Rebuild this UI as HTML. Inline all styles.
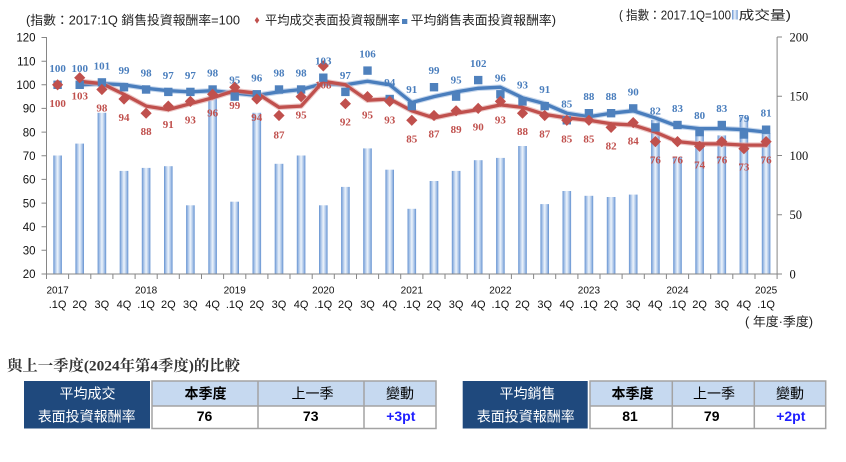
<!DOCTYPE html>
<html>
<head>
<meta charset="utf-8">
<style>
html,body{margin:0;padding:0;background:#fff;}
svg{display:block;}
</style>
</head>
<body>
<svg width="846" height="462" viewBox="0 0 846 462" xmlns="http://www.w3.org/2000/svg">
<defs>
<linearGradient id="bg" x1="0" y1="0" x2="1" y2="0">
<stop offset="0" stop-color="#6391d0"/>
<stop offset="0.22" stop-color="#a8c3e8"/>
<stop offset="0.5" stop-color="#eef4fb"/>
<stop offset="0.78" stop-color="#a8c3e8"/>
<stop offset="1" stop-color="#6391d0"/>
</linearGradient>
<rect id="sq" x="-4.2" y="-4.2" width="8.4" height="8.4" fill="#4f81bd"/>
<path id="dm" d="M0,-5.6 L5.6,0 L0,5.6 L-5.6,0Z" fill="#c0504d"/>
</defs>

<!-- top legends -->
<g font-family="'Liberation Sans','Noto Sans CJK TC',sans-serif" font-size="12.5" fill="#222">
<text x="26" y="24.5" textLength="214" lengthAdjust="spacingAndGlyphs">(指數：2017:1Q 銷售投資報酬率=100</text>
<text x="265" y="24.5" textLength="135" lengthAdjust="spacingAndGlyphs">平均成交表面投資報酬率</text>
<text x="410.7" y="24.5" textLength="145.3" lengthAdjust="spacingAndGlyphs">平均銷售表面投資報酬率)</text>
</g>
<path d="M257,17 L259.3,20.3 L257,23.6 L254.7,20.3Z" fill="#c0504d"/>
<rect x="402" y="19" width="5.3" height="5" fill="#4f81bd"/>
<g font-family="'Liberation Sans','Noto Sans CJK TC',sans-serif" font-size="12.5" fill="#222">
<text x="619" y="19.5" textLength="112" lengthAdjust="spacingAndGlyphs">( 指數：2017.1Q=100</text>
<text x="738.7" y="19.5" textLength="52.3" lengthAdjust="spacingAndGlyphs">成交量)</text>
</g>
<rect x="732" y="10" width="5.7" height="9.5" fill="url(#bg)"/>

<!-- bars -->
<g fill="url(#bg)">
<rect x="53.3" y="155.5" width="8.6" height="118.5"/>
<rect x="75.4" y="143.6" width="8.6" height="130.4"/>
<rect x="97.6" y="112.8" width="8.6" height="161.2"/>
<rect x="119.7" y="170.9" width="8.6" height="103.1"/>
<rect x="141.8" y="167.9" width="8.6" height="106.1"/>
<rect x="164.0" y="166.2" width="8.6" height="107.8"/>
<rect x="186.1" y="205.3" width="8.6" height="68.7"/>
<rect x="208.3" y="96.2" width="8.6" height="177.8"/>
<rect x="230.4" y="201.7" width="8.6" height="72.3"/>
<rect x="252.5" y="112.8" width="8.6" height="161.2"/>
<rect x="274.7" y="163.8" width="8.6" height="110.2"/>
<rect x="296.8" y="155.5" width="8.6" height="118.5"/>
<rect x="319.0" y="205.3" width="8.6" height="68.7"/>
<rect x="341.1" y="186.9" width="8.6" height="87.1"/>
<rect x="363.2" y="148.4" width="8.6" height="125.6"/>
<rect x="385.4" y="169.7" width="8.6" height="104.3"/>
<rect x="407.5" y="208.8" width="8.6" height="65.2"/>
<rect x="429.7" y="181.0" width="8.6" height="93.0"/>
<rect x="451.8" y="170.9" width="8.6" height="103.1"/>
<rect x="473.9" y="160.2" width="8.6" height="113.8"/>
<rect x="496.1" y="157.9" width="8.6" height="116.1"/>
<rect x="518.2" y="146.0" width="8.6" height="128.0"/>
<rect x="540.4" y="204.1" width="8.6" height="69.9"/>
<rect x="562.5" y="191.0" width="8.6" height="83.0"/>
<rect x="584.6" y="195.8" width="8.6" height="78.2"/>
<rect x="606.8" y="197.0" width="8.6" height="77.0"/>
<rect x="628.9" y="194.6" width="8.6" height="79.4"/>
<rect x="651.1" y="120.0" width="8.6" height="154.0"/>
<rect x="673.2" y="156.7" width="8.6" height="117.3"/>
<rect x="695.3" y="130.0" width="8.6" height="144.0"/>
<rect x="717.5" y="135.4" width="8.6" height="138.6"/>
<rect x="739.6" y="116.8" width="8.6" height="157.2"/>
<rect x="761.8" y="133.0" width="8.6" height="141.0"/>
</g>

<!-- axes -->
<g stroke="#868686" stroke-width="1" fill="none">
<path d="M46.5,37 V274 H777.1 V37"/>
<path d="M41.5,37.5H46.5 M41.5,61.2H46.5 M41.5,84.8H46.5 M41.5,108.4H46.5 M41.5,132.1H46.5 M41.5,155.8H46.5 M41.5,179.4H46.5 M41.5,203.1H46.5 M41.5,226.7H46.5 M41.5,250.3H46.5 M41.5,274H46.5"/>
<path d="M777.1,37H782 M777.1,96.25H782 M777.1,155.5H782 M777.1,214.75H782 M777.1,274H782"/>
<path d="M46.5,274v5 M68.6,274v5 M90.8,274v5 M112.9,274v5 M135.1,274v5 M157.2,274v5 M179.3,274v5 M201.5,274v5 M223.6,274v5 M245.8,274v5 M267.9,274v5 M290.0,274v5 M312.2,274v5 M334.3,274v5 M356.5,274v5 M378.6,274v5 M400.7,274v5 M422.9,274v5 M445.0,274v5 M467.2,274v5 M489.3,274v5 M511.4,274v5 M533.6,274v5 M555.7,274v5 M577.9,274v5 M600.0,274v5 M622.1,274v5 M644.3,274v5 M666.4,274v5 M688.6,274v5 M710.7,274v5 M732.8,274v5 M755.0,274v5 M777.1,274v5"/>
</g>

<!-- left axis labels -->
<g font-family="'Liberation Sans',sans-serif" font-size="11.5" fill="#111" text-anchor="end">
<text x="35.5" y="41.7">120</text>
<text x="35.5" y="65.4">110</text>
<text x="35.5" y="89">100</text>
<text x="35.5" y="112.6">90</text>
<text x="35.5" y="136.3">80</text>
<text x="35.5" y="160">70</text>
<text x="35.5" y="183.6">60</text>
<text x="35.5" y="207.3">50</text>
<text x="35.5" y="230.9">40</text>
<text x="35.5" y="254.5">30</text>
<text x="35.5" y="278.2">20</text>
</g>
<!-- right axis labels -->
<g font-family="'Liberation Serif',serif" font-size="12.5" fill="#111">
<text x="789.5" y="41.3">200</text>
<text x="789.5" y="100.5">150</text>
<text x="789.5" y="159.8">100</text>
<text x="789.5" y="219">50</text>
<text x="789.5" y="278.3">0</text>
</g>

<!-- x labels -->
<g font-family="'Liberation Sans',sans-serif" font-size="10" fill="#111" text-anchor="middle">
<text x="57.6" y="293.3">2017</text>
<text x="146.1" y="293.3">2018</text>
<text x="234.7" y="293.3">2019</text>
<text x="323.3" y="293.3">2020</text>
<text x="411.8" y="293.3">2021</text>
<text x="500.4" y="293.3">2022</text>
<text x="588.9" y="293.3">2023</text>
<text x="677.5" y="293.3">2024</text>
<text x="766.1" y="293.3">2025</text>
</g>
<g font-family="'Liberation Sans',sans-serif" font-size="11" fill="#111" text-anchor="middle">
<text x="57.6" y="308">.1Q</text><text x="79.7" y="308">2Q</text><text x="101.9" y="308">3Q</text><text x="124.0" y="308">4Q</text>
<text x="146.1" y="308">.1Q</text><text x="168.3" y="308">2Q</text><text x="190.4" y="308">3Q</text><text x="212.6" y="308">4Q</text>
<text x="234.7" y="308">.1Q</text><text x="256.8" y="308">2Q</text><text x="279.0" y="308">3Q</text><text x="301.1" y="308">4Q</text>
<text x="323.3" y="308">.1Q</text><text x="345.4" y="308">2Q</text><text x="367.5" y="308">3Q</text><text x="389.7" y="308">4Q</text>
<text x="411.8" y="308">.1Q</text><text x="434.0" y="308">2Q</text><text x="456.1" y="308">3Q</text><text x="478.2" y="308">4Q</text>
<text x="500.4" y="308">.1Q</text><text x="522.5" y="308">2Q</text><text x="544.7" y="308">3Q</text><text x="566.8" y="308">4Q</text>
<text x="588.9" y="308">.1Q</text><text x="611.1" y="308">2Q</text><text x="633.2" y="308">3Q</text><text x="655.4" y="308">4Q</text>
<text x="677.5" y="308">.1Q</text><text x="699.6" y="308">2Q</text><text x="721.8" y="308">3Q</text><text x="743.9" y="308">4Q</text>
<text x="766.1" y="308">.1Q</text>
</g>
<text x="745" y="326" font-family="'Liberation Sans','Noto Sans CJK TC',sans-serif" font-size="12.5" fill="#222" textLength="68" lengthAdjust="spacingAndGlyphs">( 年度·季度)</text>

<!-- lines -->
<g fill="none" stroke-linejoin="round" stroke-linecap="round">
<polyline stroke="#9fbbe0" stroke-opacity="0.6" stroke-width="5.5" points="79.7,84.8 101.9,83.6 124.0,84.8 146.1,88.3 168.3,90.7 190.4,91.9 212.6,90.7 234.7,93.1 256.8,95.4 279.0,91.9 301.1,89.5 323.3,83.6 345.4,84.8 367.5,81.3 389.7,84.8 411.8,102.5 434.0,96.6 456.1,91.9 478.2,88.3 500.4,87.2 522.5,97.8 544.7,103.7 566.8,113.2 588.9,116.7 611.1,113.2 633.2,110.8 655.4,117.9 677.5,126.2 699.6,128.6 721.8,128.6 743.9,129.7 766.1,132.1"/>
<polyline stroke="#4a7ebd" stroke-width="3.3" points="79.7,84.8 101.9,83.6 124.0,84.8 146.1,88.3 168.3,90.7 190.4,91.9 212.6,90.7 234.7,93.1 256.8,95.4 279.0,91.9 301.1,89.5 323.3,83.6 345.4,84.8 367.5,81.3 389.7,84.8 411.8,102.5 434.0,96.6 456.1,91.9 478.2,88.3 500.4,87.2 522.5,97.8 544.7,103.7 566.8,113.2 588.9,116.7 611.1,113.2 633.2,110.8 655.4,117.9 677.5,126.2 699.6,128.6 721.8,128.6 743.9,129.7 766.1,132.1"/>
<polyline stroke="#e0a3a2" stroke-opacity="0.6" stroke-width="5.5" points="79.7,81.3 101.9,83.6 124.0,94.3 146.1,106.1 168.3,109.6 190.4,103.7 212.6,97.8 234.7,90.7 256.8,93.1 279.0,107.3 301.1,106.1 323.3,81.3 345.4,84.8 367.5,100.2 389.7,99.0 411.8,110.8 434.0,117.9 456.1,113.2 478.2,109.6 500.4,104.9 522.5,107.3 544.7,114.4 566.8,117.9 588.9,120.3 611.1,123.8 633.2,125.0 655.4,132.1 677.5,141.6 699.6,143.9 721.8,143.9 743.9,145.1 766.1,145.1"/>
<polyline stroke="#c0504d" stroke-width="3.3" points="79.7,81.3 101.9,83.6 124.0,94.3 146.1,106.1 168.3,109.6 190.4,103.7 212.6,97.8 234.7,90.7 256.8,93.1 279.0,107.3 301.1,106.1 323.3,81.3 345.4,84.8 367.5,100.2 389.7,99.0 411.8,110.8 434.0,117.9 456.1,113.2 478.2,109.6 500.4,104.9 522.5,107.3 544.7,114.4 566.8,117.9 588.9,120.3 611.1,123.8 633.2,125.0 655.4,132.1 677.5,141.6 699.6,143.9 721.8,143.9 743.9,145.1 766.1,145.1"/>
</g>

<!-- blue markers -->
<g>
<use href="#sq" x="57.6" y="84.8"/><use href="#sq" x="79.7" y="84.8"/><use href="#sq" x="101.9" y="82.4"/><use href="#sq" x="124.0" y="87.2"/>
<use href="#sq" x="146.1" y="89.5"/><use href="#sq" x="168.3" y="91.9"/><use href="#sq" x="190.4" y="91.9"/><use href="#sq" x="212.6" y="89.5"/>
<use href="#sq" x="234.7" y="96.6"/><use href="#sq" x="256.8" y="94.3"/><use href="#sq" x="279.0" y="89.5"/><use href="#sq" x="301.1" y="89.5"/>
<use href="#sq" x="323.3" y="77.7"/><use href="#sq" x="345.4" y="91.9"/><use href="#sq" x="367.5" y="70.6"/><use href="#sq" x="389.7" y="99.0"/>
<use href="#sq" x="411.8" y="106.1"/><use href="#sq" x="434.0" y="87.2"/><use href="#sq" x="456.1" y="96.6"/><use href="#sq" x="478.2" y="80.1"/>
<use href="#sq" x="500.4" y="94.3"/><use href="#sq" x="522.5" y="101.4"/><use href="#sq" x="544.7" y="106.1"/><use href="#sq" x="566.8" y="120.3"/>
<use href="#sq" x="588.9" y="113.2"/><use href="#sq" x="611.1" y="113.2"/><use href="#sq" x="633.2" y="108.4"/><use href="#sq" x="655.4" y="127.4"/>
<use href="#sq" x="677.5" y="125.0"/><use href="#sq" x="699.6" y="132.1"/><use href="#sq" x="721.8" y="125.0"/><use href="#sq" x="743.9" y="134.5"/>
<use href="#sq" x="766.1" y="129.7"/>
</g>
<!-- red markers -->
<g>
<use href="#dm" x="57.6" y="84.8"/><use href="#dm" x="79.7" y="77.7"/><use href="#dm" x="101.9" y="89.5"/><use href="#dm" x="124.0" y="99.0"/>
<use href="#dm" x="146.1" y="113.2"/><use href="#dm" x="168.3" y="106.1"/><use href="#dm" x="190.4" y="101.4"/><use href="#dm" x="212.6" y="94.3"/>
<use href="#dm" x="234.7" y="87.2"/><use href="#dm" x="256.8" y="99.0"/><use href="#dm" x="279.0" y="115.5"/><use href="#dm" x="301.1" y="96.6"/>
<use href="#dm" x="323.3" y="65.9"/><use href="#dm" x="345.4" y="103.7"/><use href="#dm" x="367.5" y="96.6"/><use href="#dm" x="389.7" y="101.4"/>
<use href="#dm" x="411.8" y="120.3"/><use href="#dm" x="434.0" y="115.5"/><use href="#dm" x="456.1" y="110.8"/><use href="#dm" x="478.2" y="108.4"/>
<use href="#dm" x="500.4" y="101.4"/><use href="#dm" x="522.5" y="113.2"/><use href="#dm" x="544.7" y="115.5"/><use href="#dm" x="566.8" y="120.3"/>
<use href="#dm" x="588.9" y="120.3"/><use href="#dm" x="611.1" y="127.4"/><use href="#dm" x="633.2" y="122.6"/><use href="#dm" x="655.4" y="141.6"/>
<use href="#dm" x="677.5" y="141.6"/><use href="#dm" x="699.6" y="146.3"/><use href="#dm" x="721.8" y="141.6"/><use href="#dm" x="743.9" y="148.7"/>
<use href="#dm" x="766.1" y="141.6"/>
</g>

<!-- blue labels -->
<g fill="#4a7ebd" font-family="'Liberation Serif',serif" font-weight="bold" font-size="11" text-anchor="middle">
<text x="57.6" y="71.8">100</text><text x="79.7" y="71.8">100</text><text x="101.9" y="69.4">101</text><text x="124.0" y="74.2">99</text>
<text x="146.1" y="76.5">98</text><text x="168.3" y="78.9">97</text><text x="190.4" y="78.9">97</text><text x="212.6" y="76.5">98</text>
<text x="234.7" y="83.6">95</text><text x="256.8" y="81.3">96</text><text x="279.0" y="76.5">98</text><text x="301.1" y="76.5">98</text>
<text x="323.3" y="64.7">103</text><text x="345.4" y="78.9">97</text><text x="367.5" y="57.6">106</text><text x="389.7" y="86.0">94</text>
<text x="411.8" y="93.1">91</text><text x="434.0" y="74.2">99</text><text x="456.1" y="83.6">95</text><text x="478.2" y="67.1">102</text>
<text x="500.4" y="81.3">96</text><text x="522.5" y="88.4">93</text><text x="544.7" y="93.1">91</text><text x="566.8" y="107.3">85</text>
<text x="588.9" y="100.2">88</text><text x="611.1" y="100.2">88</text><text x="633.2" y="95.4">90</text><text x="655.4" y="114.4">82</text>
<text x="677.5" y="112.0">83</text><text x="699.6" y="119.1">80</text><text x="721.8" y="112.0">83</text><text x="743.9" y="122">79</text>
<text x="766.1" y="116.7">81</text>
</g>
<!-- red labels -->
<g fill="#c0504d" font-family="'Liberation Serif',serif" font-weight="bold" font-size="11" text-anchor="middle">
<text x="57.6" y="106.8">100</text><text x="79.7" y="99.7">103</text><text x="101.9" y="111.5">98</text><text x="124.0" y="121.0">94</text>
<text x="146.1" y="135.2">88</text><text x="168.3" y="128.1">91</text><text x="190.4" y="123.4">93</text><text x="212.6" y="116.3">96</text>
<text x="234.7" y="109.2">99</text><text x="256.8" y="121.0">94</text><text x="279.0" y="138.5">87</text><text x="301.1" y="118.6">95</text>
<text x="323.3" y="88.5">108</text><text x="345.4" y="125.7">92</text><text x="367.5" y="118.6">95</text><text x="389.7" y="123.4">93</text>
<text x="411.8" y="142.3">85</text><text x="434.0" y="137.5">87</text><text x="456.1" y="132.8">89</text><text x="478.2" y="130.4">90</text>
<text x="500.4" y="123.4">93</text><text x="522.5" y="135.2">88</text><text x="544.7" y="137.5">87</text><text x="566.8" y="142.3">85</text>
<text x="588.9" y="142.3">85</text><text x="611.1" y="149.4">82</text><text x="633.2" y="144.6">84</text><text x="655.4" y="163.6">76</text>
<text x="677.5" y="163.6">76</text><text x="699.6" y="168.3">74</text><text x="721.8" y="163.6">76</text><text x="743.9" y="170.7">73</text>
<text x="766.1" y="163.6">76</text>
</g>

<!-- comparison title -->
<text x="7" y="370.5" font-family="'Liberation Serif','Noto Serif CJK SC',serif" font-weight="bold" font-size="15" fill="#333" textLength="233" lengthAdjust="spacingAndGlyphs">與上一季度(2024年第4季度)的比較</text>

<!-- table 1 -->
<rect x="24" y="381" width="126" height="47.5" fill="#1f497d"/>
<g font-family="'Liberation Sans','Noto Sans CJK TC',sans-serif" font-size="14" fill="#fff" text-anchor="middle">
<text x="87.5" y="398.5">平均成交</text>
<text x="86.7" y="421.5">表面投資報酬率</text>
</g>
<rect x="152" y="381" width="284" height="25" fill="#c6d9f0"/>
<g stroke="#a3a3a3" stroke-width="1.5" fill="none">
<rect x="152" y="381" width="284" height="47.5"/>
<path d="M152,406H436 M258,381V428.5 M364,381V428.5"/>
</g>
<g font-family="'Liberation Sans','Noto Sans CJK TC',sans-serif" font-size="14" fill="#000" text-anchor="middle">
<text x="205.5" y="398.5" font-weight="bold">本季度</text>
<text x="312.5" y="398.5">上一季</text>
<text x="400" y="398.5">變動</text>
<text x="204.5" y="421" font-weight="bold">76</text>
<text x="310.7" y="421" font-weight="bold">73</text>
<text x="400.8" y="421" font-weight="bold" fill="#1f1fff">+3pt</text>
</g>

<!-- table 2 -->
<rect x="462.7" y="381" width="125" height="47.5" fill="#1f497d"/>
<g font-family="'Liberation Sans','Noto Sans CJK TC',sans-serif" font-size="14" fill="#fff" text-anchor="middle">
<text x="527.5" y="398.5">平均銷售</text>
<text x="525.8" y="421.5">表面投資報酬率</text>
</g>
<rect x="590" y="381" width="235.7" height="25" fill="#c6d9f0"/>
<g stroke="#a3a3a3" stroke-width="1.5" fill="none">
<rect x="590" y="381" width="235.7" height="47.5"/>
<path d="M590,406H825.7 M672.3,381V428.5 M754.3,381V428.5"/>
</g>
<g font-family="'Liberation Sans','Noto Sans CJK TC',sans-serif" font-size="14" fill="#000" text-anchor="middle">
<text x="632.5" y="398.5" font-weight="bold">本季度</text>
<text x="714" y="398.5">上一季</text>
<text x="790" y="398.5">變動</text>
<text x="630" y="421" font-weight="bold">81</text>
<text x="711.7" y="421" font-weight="bold">79</text>
<text x="790.8" y="421" font-weight="bold" fill="#1f1fff">+2pt</text>
</g>
</svg>
</body>
</html>
